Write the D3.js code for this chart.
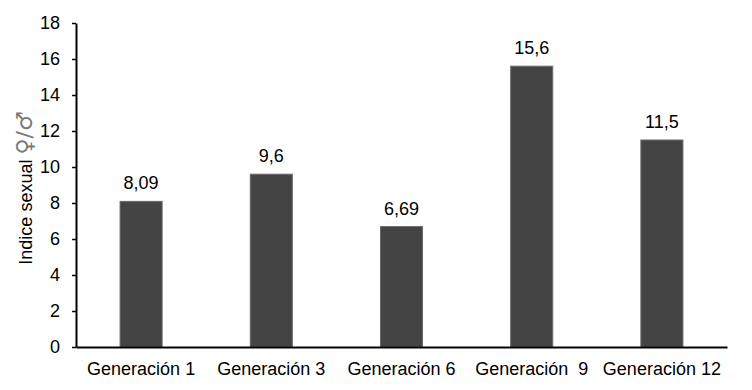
<!DOCTYPE html>
<html>
<head>
<meta charset="utf-8">
<script src="https://cdn.jsdelivr.net/npm/d3@7"></script>
<style>
  body { margin: 0; background: #fff; }
  svg text { font-family: "Liberation Sans", Arial, sans-serif; }
</style>
</head>
<body>
<svg id="chart" width="752" height="390"></svg>
<script>
// data
var generaciones = ["Generación 1", "Generación 3", "Generación 6", "Generación  9", "Generación 12"];
var indice = [8.09, 9.6, 6.69, 15.6, 11.5];
var yTicks = [0, 2, 4, 6, 8, 10, 12, 14, 16, 18];

var svg = d3.select("svg#chart"),
    margin = {top: 23, right: 25, bottom: 43, left: 76},
    width = +svg.attr("width") - margin.left - margin.right,
    height = +svg.attr("height") - margin.top - margin.bottom;

var data = generaciones.map(function(g, i) { return {gen: g, val: indice[i]}; });

var x = d3.scaleBand()
    .domain(generaciones)
    .range([0, width])
    .paddingInner(0.677)
    .paddingOuter(0.3385);

var y = d3.scaleLinear().domain([0, 18]).range([height, 0]);

var g = svg.append("g")
    .attr("transform", "translate(" + margin.left + "," + margin.top + ")");

// bars
g.selectAll("rect.bar")
  .data(data)
  .enter().append("rect")
    .attr("class", "bar")
    .attr("x", function(d) { return x(d.gen); })
    .attr("y", function(d) { return y(d.val); })
    .attr("width", x.bandwidth())
    .attr("height", function(d) { return height - y(d.val); })
    .attr("fill", "#444444")
    .attr("stroke", "#6a6a6a")
    .attr("stroke-width", 1);

// value labels
g.selectAll("text.val")
  .data(data)
  .enter().append("text")
    .attr("class", "val")
    .attr("x", function(d) { return x(d.gen) + x.bandwidth() / 2; })
    .attr("y", function(d) { return y(d.val) - 12; })
    .attr("text-anchor", "middle")
    .style("font-size", "18px")
    .attr("fill", "#000")
    .text(function(d) { return String(d.val).replace(".", ","); });

// y axis
var yAxis = g.append("g")
    .attr("class", "axis axis--y")
    .call(d3.axisLeft(y).tickValues(yTicks).tickSize(4).tickSizeOuter(0).tickPadding(12));
yAxis.select(".domain").attr("stroke", "#000").attr("stroke-width", 2);
yAxis.selectAll(".tick line").attr("stroke", "#000").attr("stroke-width", 1.5);
yAxis.selectAll(".tick text").style("font-size", "18px").attr("fill", "#000");

// x axis
var xAxis = g.append("g")
    .attr("class", "axis axis--x")
    .attr("transform", "translate(0," + height + ")")
    .call(d3.axisBottom(x).tickSize(0).tickPadding(15));
xAxis.select(".domain").attr("stroke", "#000").attr("stroke-width", 2);
xAxis.selectAll(".tick text")
    .style("font-size", "18px")
    .style("white-space", "pre")
    .attr("fill", "#000");

// axis title
var title = svg.append("text")
    .attr("transform", "translate(32," + (margin.top + height / 2 + 3) + ") rotate(-90)")
    .attr("text-anchor", "middle")
    .style("font-size", "18px")
    .attr("fill", "#000");
title.append("tspan").text("Indice sexual ");
title.append("tspan")
    .attr("fill", "#7a7a7a")
    .style("font-family", "'DejaVu Sans', sans-serif")
    .style("font-size", "22px")
    .text("♀/♂");
</script>
</body>
</html>
